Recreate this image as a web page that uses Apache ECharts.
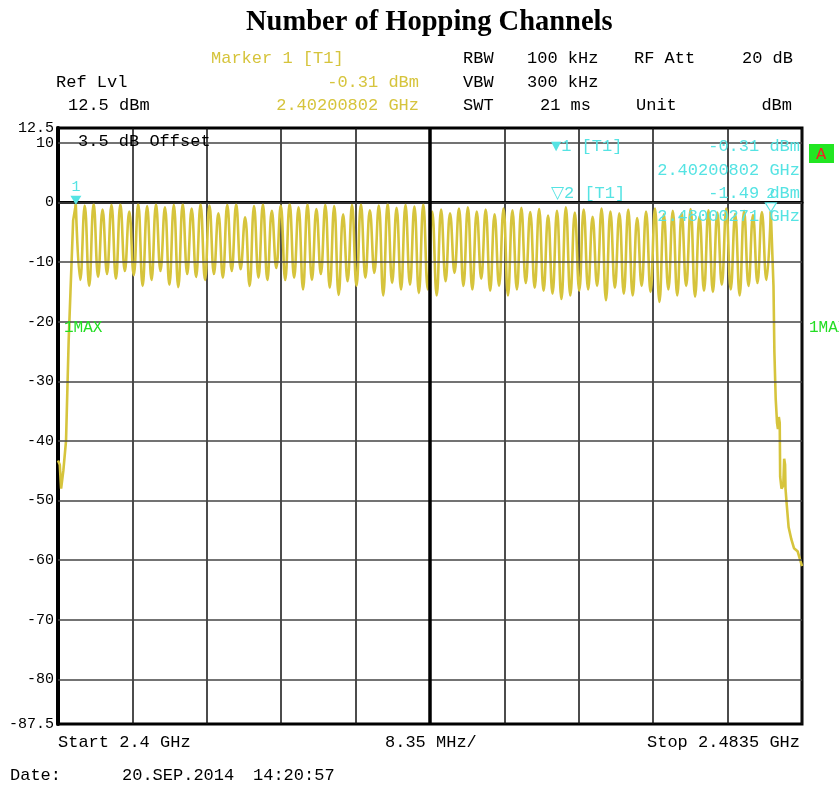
<!DOCTYPE html>
<html>
<head>
<meta charset="utf-8">
<script src="https://cdn.jsdelivr.net/npm/echarts@6/dist/echarts.min.js"></script>
<style>
html,body{margin:0;padding:0;background:#fff;}
#main{width:839px;height:787px;}
</style>
</head>
<body>
<div id="main"></div>
<script>
// spectrum sweep 2.4 GHz .. 2.4835 GHz, x in MHz from start
var START_MHZ = 2400;
var SPAN_MHZ = 83.5;
var DIV_MHZ = 8.35;

var yLabels = [12.5, 10, 0, -10, -20, -30, -40, -50, -60, -70, -80, -87.5];
var gridLevels = [10, 0, -10, -20, -30, -40, -50, -60, -70, -80];

var channelsMHz = [2402,2403,2404,2405,2406,2407,2408,2409,2410,2411,2412,2413,2414,2415,2416,2417,2418,2419,2420,2421,
  2422,2423,2424,2425,2426,2427,2428,2429,2430,2431,2432,2433,2434,2435,2436,2437,2438,2439,2440,2441,2442,
  2443,2444,2445,2446,2447,2448,2449,2450,2451,2452,2453,2454,2455,2456,2457,2458,2459,2460,2461,2462,
  2463,2464,2465,2466,2467,2468,2469,2470,2471,2472,2473,2474,2475,2476,2477,2478,2479,2480];

// peak level of each hop channel (dBm)
var peakDbm = [-0.3,-0.5,-0.2,-1.2,-0.4,-0.3,-1.5,-0.2,-0.6,-0.3,-0.8,-0.4,-0.2,-1.0,-0.3,-0.5,-1.8,-0.4,-0.3,-2.5,
  -0.6,-0.3,-1.4,-0.5,-0.2,-0.8,-0.3,-1.1,-0.4,-0.6,-2.0,-0.4,-0.3,-1.3,-0.5,-0.2,-0.9,-0.4,-0.7,-0.3,-1.5,
  -1.2,-1.8,-1.0,-0.8,-1.5,-1.2,-2.0,-1.0,-1.3,-0.9,-1.6,-1.1,-2.2,-1.4,-0.8,-1.7,-1.2,-2.4,-1.0,-1.5,
  -1.8,-1.2,-2.6,-1.5,-1.0,-2.0,-1.4,-1.8,-1.1,-2.3,-1.3,-1.7,-1.0,-1.9,-1.4,-2.1,-1.6,-1.49];

// dip between neighbouring channels (dBm)
var dipDbm = [-13.0,-14.0,-12.5,-12.0,-12.8,-11.5,-12.2,-14.0,-13.0,-11.5,-13.8,-14.2,-12.0,-12.5,-13.0,-12.0,-12.6,-11.5,-11.2,-14.0,
  -12.6,-13.0,-11.0,-13.0,-12.6,-14.6,-13.0,-12.0,-14.3,-15.5,-13.2,-14.0,-12.6,-11.8,-15.6,-13.5,-14.6,-13.8,-15.2,-14.6,-15.6,
  -13.2,-11.8,-14.0,-14.6,-12.8,-14.8,-14.0,-15.6,-14.6,-13.5,-14.3,-14.8,-15.3,-16.2,-15.6,-14.8,-14.6,-14.0,-16.4,-14.3,
  -15.3,-15.6,-14.0,-15.0,-16.7,-14.6,-15.6,-14.0,-15.8,-14.8,-15.0,-13.8,-14.6,-15.6,-14.0,-13.5,-13.0];

// band edges
var leftEdgeMHz = [2400.0,2400.2,2400.35,2400.5,2400.6,2400.9,2401.2,2401.4,2401.7];
var leftEdgeDbm = [-43.3,-44.0,-48.0,-48.2,-45.0,-40.0,-23.0,-15.0,-3.0];
var rightEdgeMHz = [2480.3,2480.4,2480.55,2480.7,2480.8,2480.9,2481.0,2481.05,2481.2,2481.4,2481.5,2481.6,2481.65,2481.75,2482.0,2482.3,2482.6,2483.0,2483.2,2483.5];
var rightEdgeDbm = [-14,-25,-33,-37,-38,-36,-37,-46,-48,-47.5,-43,-44,-48,-50,-54.5,-56.5,-58,-58.5,-59.5,-61];

var markers = [
  {name:'1', mhz:2402.00802, dbm:-0.31, filled:true},
  {name:'2', mhz:2480.00271, dbm:-1.49, filled:false}
];

var hops = [], leftEdge = [], rightEdge = [];
leftEdgeMHz.forEach(function(f,i){ leftEdge.push([f-START_MHZ, leftEdgeDbm[i]]); });
channelsMHz.forEach(function(f,i){
  hops.push([f-START_MHZ, peakDbm[i]]);
  if(i < dipDbm.length) hops.push([f+0.5-START_MHZ, dipDbm[i]]);
});
rightEdge.push(hops[hops.length-1]);
rightEdgeMHz.forEach(function(f,i){ rightEdge.push([f-START_MHZ, rightEdgeDbm[i]]); });
leftEdge.push(hops[0]);

var YEL = '#d6c43c', CYAN = '#55e3e3', MONO = 'Liberation Mono';

function txt(x, y, s, color, align, size){
  return {type:'text', x:x, y:y, z:10, style:{text:s, fill:color||'#000', font:(size||16)+'px "'+MONO+'"',
    textAlign:align||'left', textVerticalAlign:'middle'}};
}
function traceSeries(data, smooth){
  return {type:'line', data:data, z:3, symbol:'none', silent:true, smooth:smooth,
    lineStyle:{color:YEL, width:2.6}};
}

var myChart = echarts.init(document.getElementById('main'));
var hopSeries = traceSeries(hops, 0.45);
hopSeries.markPoint = {
  silent:true,
  data:markers.map(function(m){
    return {
      coord:[m.mhz-START_MHZ, m.dbm], symbol:'triangle', symbolRotate:180, symbolSize:[11,9], symbolOffset:[0,-4],
      itemStyle:{color:m.filled ? CYAN : '#fff', borderColor:CYAN, borderWidth:m.filled ? 0 : 1.2},
      label:{show:true, position:'top', distance:1, formatter:m.name, color:CYAN, fontFamily:MONO, fontSize:15}
    };
  })
};

var option = {
  animation:false,
  backgroundColor:'#fff',
  title:{
    text:'Number of Hopping Channels', left:246, top:8, padding:0,
    textStyle:{fontFamily:'Liberation Serif', fontWeight:'bold', fontSize:28.5, color:'#000'}
  },
  grid:{left:58, right:37, top:128, bottom:63, show:true, borderColor:'#000', borderWidth:3, backgroundColor:'transparent'},
  xAxis:{
    type:'value', min:0, max:SPAN_MHZ, interval:DIV_MHZ,
    axisLabel:{show:false}, axisTick:{show:false},
    axisLine:{lineStyle:{color:'#000', width:3}},
    splitLine:{show:true, lineStyle:{color:'#111', width:1.5}}
  },
  yAxis:{
    type:'value', min:-87.5, max:12.5,
    axisLine:{show:true, lineStyle:{color:'#000', width:4}},
    axisTick:{show:false},
    splitLine:{show:false},
    axisLabel:{customValues:yLabels, color:'#000', fontFamily:MONO, fontSize:15, margin:4,
      formatter:function(v){ return String(v); }}
  },
  series:[
    {
      name:'grid', type:'line', data:[], z:1, silent:true,
      markLine:{
        silent:true, symbol:'none', label:{show:false},
        data:gridLevels.map(function(v){ return {yAxis:v, lineStyle:{color:'#444', width:1.5, type:'solid'}}; })
          .concat([{xAxis:SPAN_MHZ/2, lineStyle:{color:'#000', width:3.5, type:'solid'}}])
      }
    },
    traceSeries(leftEdge, false),
    hopSeries,
    traceSeries(rightEdge, false)
  ],
  graphic:[
    txt(211, 58, 'Marker 1 [T1]', YEL, 'left', 17),
    txt(56, 82, 'Ref Lvl', '#000', 'left', 17),
    txt(419, 82, '-0.31 dBm', YEL, 'right', 17),
    txt(68, 105, '12.5 dBm', '#000', 'left', 17),
    txt(419, 105, '2.40200802 GHz', YEL, 'right', 17),
    txt(463, 58, 'RBW', '#000', 'left', 17),
    txt(527, 58, '100 kHz', '#000', 'left', 17),
    txt(634, 58, 'RF Att', '#000', 'left', 17),
    txt(793, 58, '20 dB', '#000', 'right', 17),
    txt(463, 82, 'VBW', '#000', 'left', 17),
    txt(527, 82, '300 kHz', '#000', 'left', 17),
    txt(463, 105, 'SWT', '#000', 'left', 17),
    txt(540, 105, '21 ms', '#000', 'left', 17),
    txt(636, 105, 'Unit', '#000', 'left', 17),
    txt(792, 105, 'dBm', '#000', 'right', 17),
    txt(78, 141, '3.5 dB Offset', '#000', 'left', 17),
    txt(551, 146, '\u25BC1 [T1]', CYAN, 'left', 17),
    txt(800, 146, '-0.31 dBm', CYAN, 'right', 17),
    txt(800, 170, '2.40200802 GHz', CYAN, 'right', 17),
    txt(551, 193, '\u25BD2 [T1]', CYAN, 'left', 17),
    txt(800, 193, '-1.49 dBm', CYAN, 'right', 17),
    txt(800, 216, '2.48000271 GHz', CYAN, 'right', 17),
    txt(64, 328, '1MAX', '#22dd22', 'left', 16),
    txt(809, 328, '1MAX', '#22dd22', 'left', 16),
    {type:'rect', z:10, shape:{x:809, y:144, width:25, height:19}, style:{fill:'#22e622'}},
    txt(821, 154, 'A', '#ee2222', 'center', 17),
    txt(58, 742, 'Start 2.4 GHz', '#000', 'left', 17),
    txt(385, 742, '8.35 MHz/', '#000', 'left', 17),
    txt(800, 742, 'Stop 2.4835 GHz', '#000', 'right', 17),
    txt(10, 775, 'Date:', '#000', 'left', 17),
    txt(122, 775, '20.SEP.2014', '#000', 'left', 17),
    txt(253, 775, '14:20:57', '#000', 'left', 17)
  ]
};
myChart.setOption(option);
</script>
</body>
</html>
